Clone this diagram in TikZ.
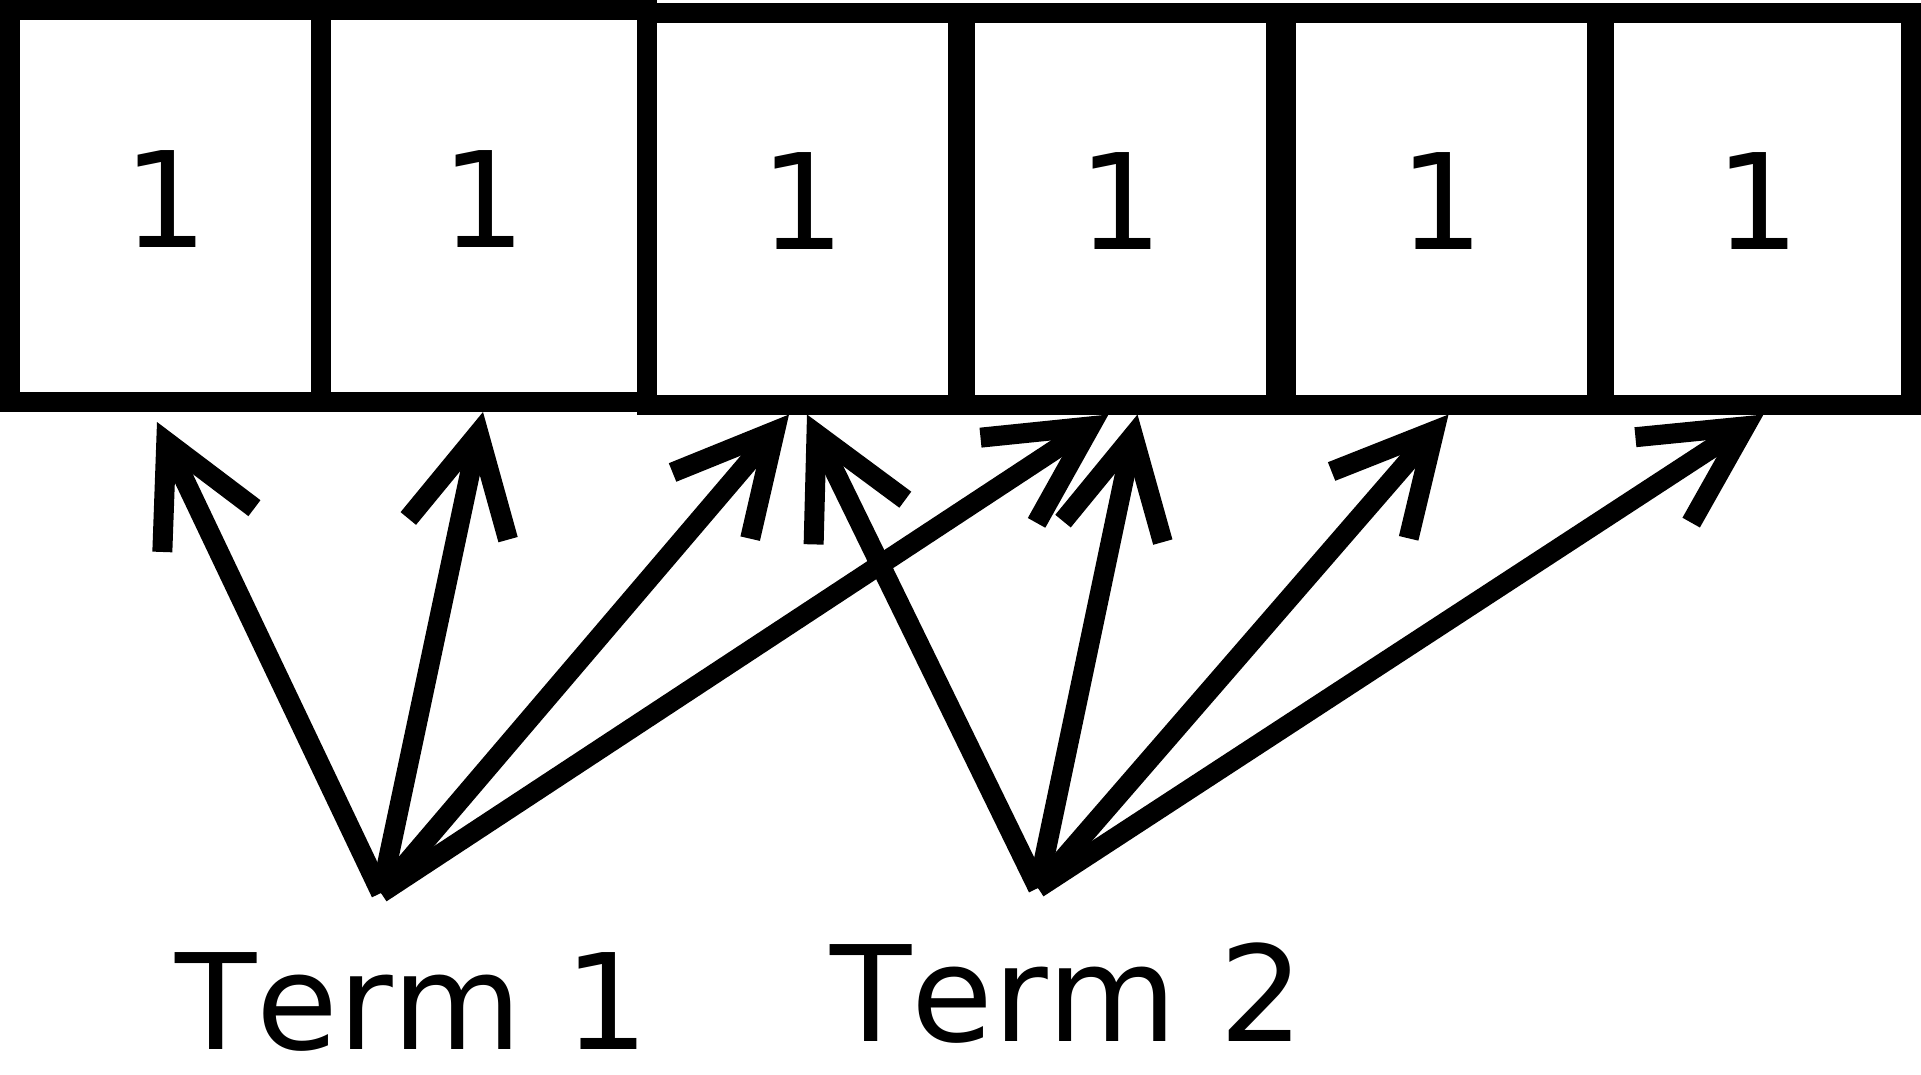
\documentclass[tikz,border=0pt]{standalone}
\usepackage{fontspec}
\setmainfont[Kerning=Off]{DejaVu Sans}
\usetikzlibrary{arrows.meta}
\begin{document}
\begin{tikzpicture}[x=1pt,y=-1pt,
  cell/.style={draw, line width=20pt, outer sep=10pt, minimum height=392pt,
    inner sep=0pt, text depth=14pt, font=\fontsize{133}{160}\selectfont},
  term/.style={inner sep=0pt, anchor=base west, font=\fontsize{133}{160}\selectfont},
  link/.style={line width=20pt, -{Straight Barb[length=98pt, width=102pt]}}]
\useasboundingbox (0,0) rectangle (1921,1074);
% cells
\node[cell, minimum width=311pt] (b1) at (165.5,206) {1};
\node[cell, minimum width=326pt] (b2) at (484,206) {1};
\node[cell, minimum width=311pt] (b3) at (802.5,208.5) {1};
\node[cell, minimum width=311pt] (b4) at (1120.5,208.5) {1};
\node[cell, minimum width=311pt] (b5) at (1441.5,208.5) {1};
\node[cell, minimum width=307pt] (b6) at (1757.5,208.5) {1};
% terms
\node[term] (t1) at (175,1049) {Term 1};
\node[term] (t2) at (830,1041) {Term 2};
\coordinate (s1) at (381,893);
\coordinate (s2) at (1038,888);
% connectors from Term 1
\draw[link] (s1) -- ([xshift=-8.5pt,yshift=-10pt]b1.south);
\draw[link] (s1) -- ([xshift=-1pt]b2.south);
\draw[link] (s1) -- ([xshift=-13.5pt]b3.south);
\draw[link] (s1) -- ([xshift=-12pt]b4.south);
% connectors from Term 2
\draw[link] (s2) -- ([xshift=4.5pt]b3.south);
\draw[link] (s2) -- ([xshift=17pt]b4.south);
\draw[link] (s2) -- ([xshift=7pt]b5.south);
\draw[link] (s2) -- ([xshift=6pt]b6.south);
\end{tikzpicture}
\end{document}
